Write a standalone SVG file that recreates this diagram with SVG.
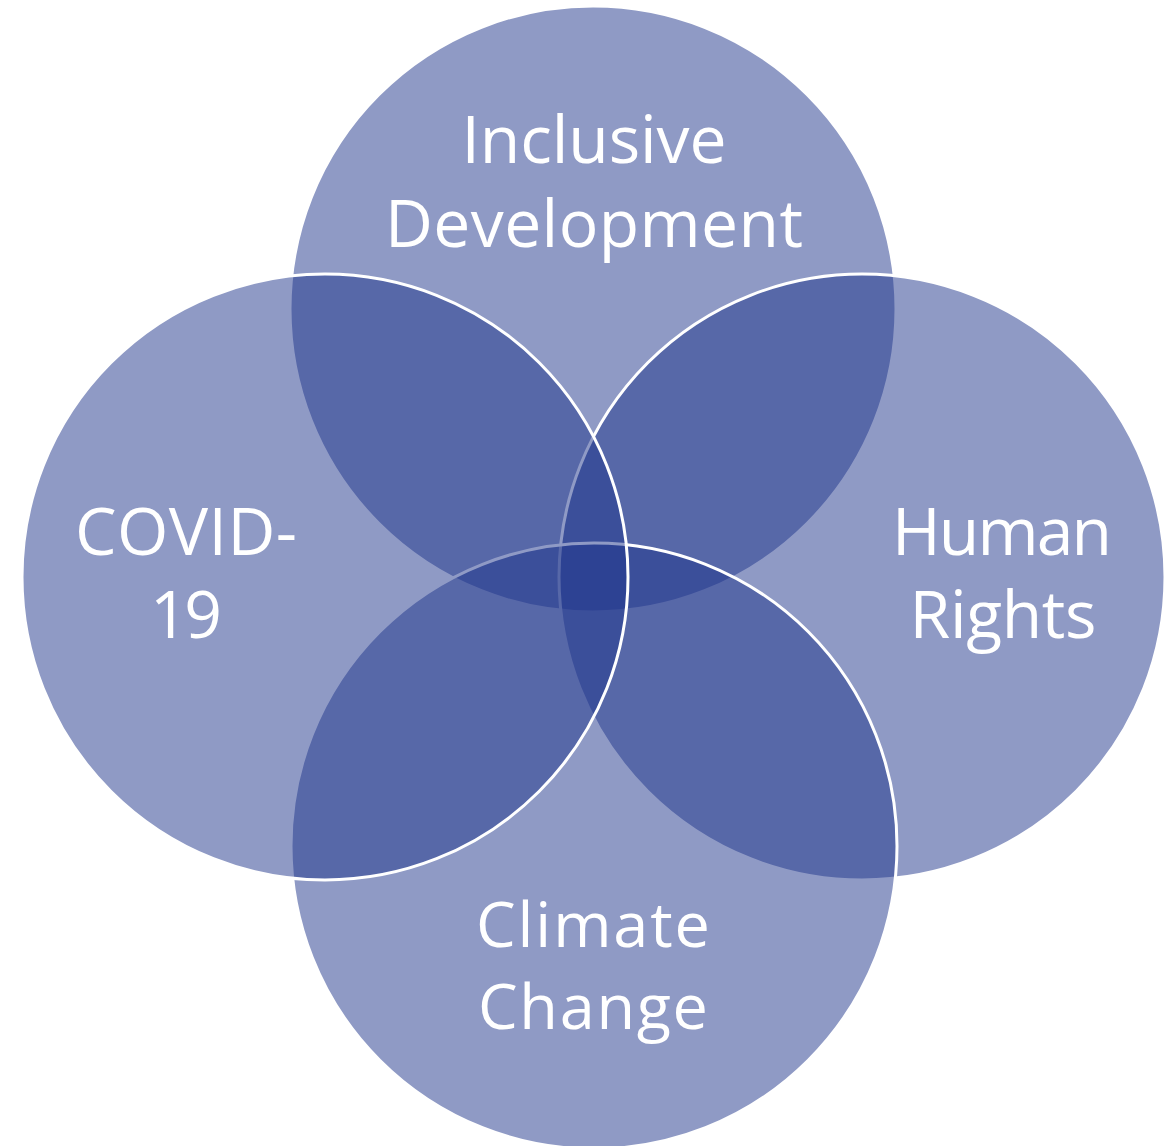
<svg xmlns="http://www.w3.org/2000/svg" width="1174" height="1146" viewBox="0 0 1174 1146">
<style>
.c{fill:#1f358b;fill-opacity:0.5;stroke:#ffffff;stroke-width:3}
.t{font-family:"Open Sans","Liberation Sans",sans-serif;font-size:66px;fill:#ffffff;text-anchor:middle}
.s{font-size:63px}
</style>
<rect width="1174" height="1146" fill="#ffffff"/>
<g id="top"><circle class="c" cx="593" cy="309" r="303"/></g>
<g id="right"><circle class="c" cx="862" cy="577" r="303"/></g>
<g id="bottom"><circle class="c" cx="594" cy="846" r="303"/></g>
<g id="left"><circle class="c" cx="325" cy="577" r="303"/></g>
<g id="connectors"></g>
<g id="labels">
<text class="t" x="594" y="163" textLength="265">Inclusive</text>
<text class="t" x="594" y="247" textLength="418">Development</text>
<text class="t" x="186" y="555" textLength="222">COVID-</text>
<text class="t" x="186" y="638" textLength="72">19</text>
<text class="t" x="1002" y="555" textLength="220">Human</text>
<text class="t" x="1003" y="638" textLength="187">Rights</text>
<text class="t s" x="593" y="947" textLength="234">Climate</text>
<text class="t s" x="593" y="1029" textLength="230">Change</text>
</g>
</svg>
